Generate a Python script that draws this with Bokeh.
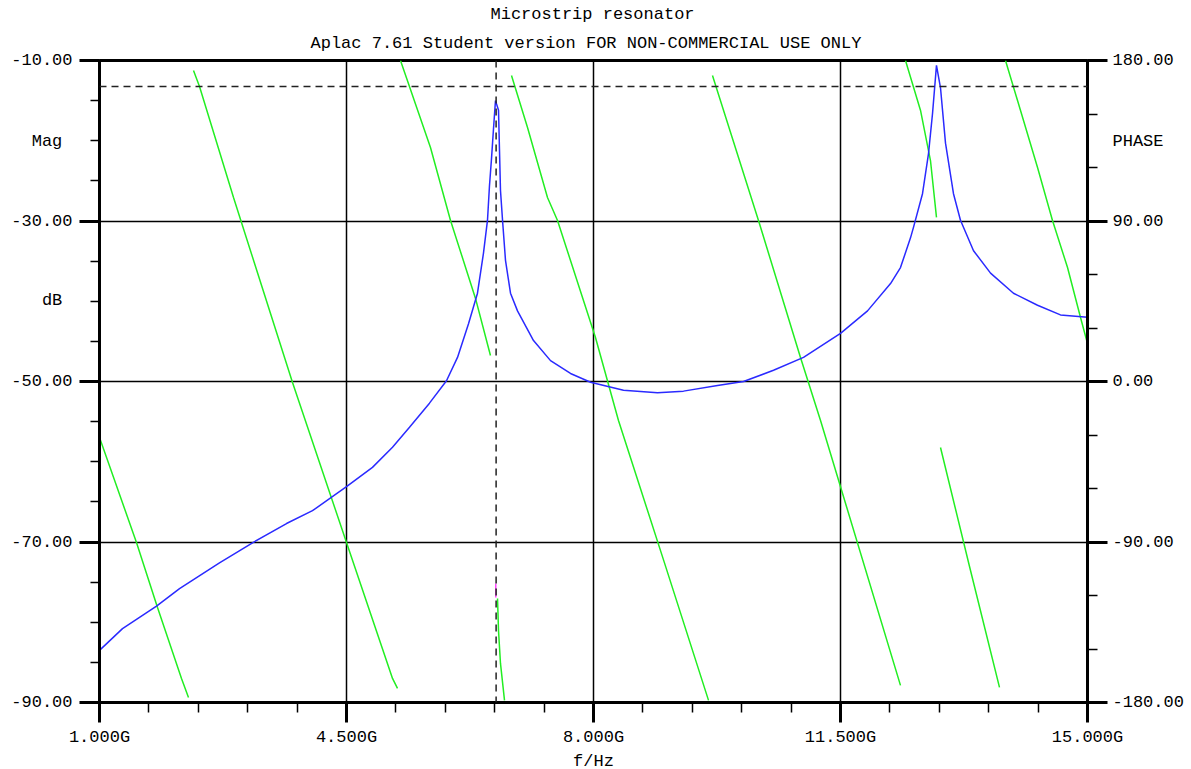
from bokeh.plotting import figure
from bokeh.models import (Range1d, LinearAxis, FixedTicker, CustomJSTickFormatter,
                          Span, Title)
from bokeh.embed import file_html
from bokeh.resources import INLINE

# ---------------- data ----------------
title_1 = "Microstrip resonator"
title_2 = "Aplac 7.61 Student version FOR NON-COMMERCIAL USE ONLY"
x_label = "f/Hz"
left_names = ["Mag", "dB"]
right_names = ["PHASE"]

# magnitude (dB) vs frequency (GHz)
mag_freq = [1.000, 1.326, 1.808, 2.134, 2.700, 3.168, 3.650, 4.018, 4.500, 4.868,
            5.152, 5.393, 5.676, 5.917, 6.073, 6.229, 6.356, 6.441, 6.498, 6.526,
            6.555, 6.583, 6.611, 6.654, 6.668, 6.682, 6.711, 6.753, 6.824, 6.923,
            7.150, 7.391, 7.674, 7.958, 8.425, 8.907, 9.275, 9.757, 10.126, 10.551,
            10.976, 11.500, 11.883, 12.209, 12.350, 12.492, 12.534, 12.662, 12.747,
            12.804, 12.860, 12.917, 12.988, 13.101, 13.200, 13.385, 13.626, 13.951,
            14.292, 14.617, 15.000]
mag_db = [-83.5, -80.8, -78.0, -75.8, -72.6, -70.1, -67.7, -66.1, -63.1, -60.7,
          -58.2, -55.7, -52.7, -49.9, -47.0, -42.8, -39.0, -34.0, -29.9, -25.6,
          -22.2, -18.5, -15.0, -16.2, -21.2, -26.2, -29.9, -34.9, -39.0, -41.2,
          -44.9, -47.4, -49.0, -50.1, -51.1, -51.4, -51.2, -50.5, -50.0, -48.6,
          -47.0, -44.0, -41.2, -37.8, -35.8, -32.1, -30.8, -26.6, -21.6,
          -16.6, -10.6, -13.4, -20.3, -26.6, -29.9, -33.7, -36.5, -39.0,
          -40.5, -41.7, -42.0]

NaN = float("nan")
# phase (degrees) vs frequency (GHz); NaN separates wrapped segments
phase_freq = [1.000, 1.524, 1.822, 2.162, 2.261, NaN,
              2.332, 2.417, 2.899, 3.735, 4.500, 5.152, 5.223, NaN,
              5.265, 5.690, 5.974, 6.328, 6.540, NaN,
              6.640, 6.654, 6.682, 6.739, NaN,
              6.838, 7.065, 7.348, 7.490, 8.028, 8.354, 9.000, 9.630, NaN,
              9.686, 10.338, 10.933, 11.217, 12.350, NaN,
              12.421, 12.634, 12.775, 12.860, NaN,
              12.917, 13.330, 13.753, NaN,
              13.838, 14.051, 14.292, 14.504, 14.717, 14.901, 15.000]
phase_deg = [-31.4, -90.3, -126.7, -166.5, -177.2, NaN,
             174.4, 165.4, 103.2, -0.6, -90.3, -166.5, -172.1, NaN,
             180.0, 131.2, 90.3, 46.6, 14.6, NaN,
             -121.7, -139.6, -158.1, -178.8, NaN,
             171.6, 142.4, 103.2, 90.3, 24.7, -21.9, -101.0, -178.8, NaN,
             171.6, 90.3, 13.5, -21.9, -170.4, NaN,
             180.0, 152.0, 123.9, 92.0, NaN,
             -37.0, -104.0, -171.5, NaN,
             180.0, 152.0, 120.0, 90.3, 63.9, 35.9, 21.3]

# cursor marker (magenta piece of the phase trace at the cursor)
marker_freq = [6.615, 6.615]
marker_deg = [-113.3, -121.1]

cursor_freq = 6.62
cursor_db = -13.24

x_ticks = [1.0, 4.5, 8.0, 11.5, 15.0]
x_minor = [round(1.0 + 0.7 * i, 2) for i in range(21)]
y_ticks = [-90, -70, -50, -30, -10]
y_minor = list(range(-90, -9, 5))
ph_ticks = [-180, -90, 0, 90, 180]
ph_minor = list(range(-180, 181, 30))

# ---------------- figure ----------------
FONT = "Liberation Mono"
FS = "17px"

X0, X1, Y0, Y1 = 1.0, 15.0, -90.0, -10.0
P0, P1 = -180.0, 180.0
FW, FH = 988, 642
FL, FT = 99, 60

p = figure(x_range=Range1d(X0, X1), y_range=Range1d(Y0, Y1),
           frame_width=FW, frame_height=FH, title=None,
           min_border_left=FL, min_border_right=96, min_border_top=FT, min_border_bottom=66,
           output_backend="svg", toolbar_location=None,
           background_fill_color="white", border_fill_color="white")
p.extra_y_ranges = {"phase": Range1d(P0, P1)}

p.outline_line_color = "black"
p.outline_line_width = 3
p.outline_line_alpha = 1.0


def style_ticks(ax, minor_len):
    ax.axis_line_width = 3
    ax.axis_line_color = "black"
    ax.major_tick_line_width = 3
    ax.major_tick_line_color = "black"
    ax.major_tick_out = 20
    ax.major_tick_in = 0
    ax.minor_tick_line_width = 1.5
    ax.minor_tick_line_color = "black"
    ax.minor_tick_out = minor_len
    ax.minor_tick_in = 0


def style_labels(ax):
    ax.major_label_text_font = FONT
    ax.major_label_text_font_size = FS
    ax.major_label_text_color = "black"


def labels_only(ax):
    ax.axis_line_color = None
    ax.major_tick_line_color = None
    ax.minor_tick_line_color = None
    ax.major_tick_out = 0
    ax.major_tick_in = 0
    ax.minor_tick_out = 0
    ax.minor_tick_in = 0
    style_labels(ax)


blank = CustomJSTickFormatter(code="return '';")

# bottom axis
xa = p.xaxis[0]
xa.ticker = FixedTicker(ticks=x_ticks, minor_ticks=x_minor)
xa.formatter = CustomJSTickFormatter(code="return tick.toFixed(3) + 'G';")
style_ticks(xa, 10)
style_labels(xa)
xa.major_label_standoff = 5
xa.axis_label = x_label
xa.axis_label_text_font = FONT
xa.axis_label_text_font_size = FS
xa.axis_label_text_font_style = "normal"
xa.axis_label_text_color = "black"
xa.axis_label_standoff = 2

# left axis: ticks only (next to the frame)
ya = p.yaxis[0]
ya.ticker = FixedTicker(ticks=y_ticks, minor_ticks=y_minor)
ya.formatter = blank
style_ticks(ya, 9)
ya.major_label_standoff = 0


def px_to_db(py):
    return Y1 - (py - FT) * (Y1 - Y0) / FH


def px_to_deg(py):
    return P1 - (py - FT) * (P1 - P0) / FH


left_pos = [px_to_db(141), px_to_db(300)]
right_pos = [px_to_deg(141)]

named_fmt = """
for (let i = 0; i < pos.length; i++) {
  if (Math.abs(tick - pos[i]) < 1e-6) { return txt[i] + pad; }
}
return tick.toFixed(2);
"""

# left axis: labels (outside the tick axis)
ya2 = LinearAxis(ticker=FixedTicker(ticks=y_ticks + left_pos, minor_ticks=[]),
                 formatter=CustomJSTickFormatter(
                     args=dict(pos=left_pos, txt=left_names, pad="\u00a0"), code=named_fmt))
labels_only(ya2)
ya2.major_label_standoff = 7
p.add_layout(ya2, "left")

# right axis: ticks only
ra = LinearAxis(y_range_name="phase",
                ticker=FixedTicker(ticks=ph_ticks, minor_ticks=ph_minor),
                formatter=blank)
style_ticks(ra, 10)
ra.major_label_standoff = 0
p.add_layout(ra, "right")

# right axis: labels
ra2 = LinearAxis(y_range_name="phase",
                 ticker=FixedTicker(ticks=ph_ticks + right_pos, minor_ticks=[]),
                 formatter=CustomJSTickFormatter(
                     args=dict(pos=right_pos, txt=right_names, pad=""), code=named_fmt))
labels_only(ra2)
ra2.major_label_standoff = 5
p.add_layout(ra2, "right")

for g in (p.xgrid[0], p.ygrid[0]):
    g.grid_line_color = "black"
    g.grid_line_width = 1.5
    g.grid_line_alpha = 1.0

# titles (first added sits closest to the frame)
p.add_layout(Title(text=title_2, align="left", offset=211, text_font=FONT, text_font_size=FS,
                   text_font_style="normal", text_color="black", standoff=16), "above")
p.add_layout(Title(text=title_1, align="left", offset=391, text_font=FONT, text_font_size=FS,
                   text_font_style="normal", text_color="black", standoff=0), "above")

# ---------------- curves ----------------
p.line(phase_freq, phase_deg, y_range_name="phase", line_color="#22ee22", line_width=1.5)
p.line(marker_freq, marker_deg, y_range_name="phase", line_color="#ff44ff", line_width=1.5)
p.line(mag_freq, mag_db, line_color="#2a2aff", line_width=1.5)

p.add_layout(Span(location=cursor_freq, dimension="height", line_color="#222222",
                  line_dash="7 5", line_width=1.5))
p.add_layout(Span(location=cursor_db, dimension="width", line_color="#222222",
                  line_dash="7 5", line_width=1.5))

open("out.html", "w").write(file_html(p, INLINE))
